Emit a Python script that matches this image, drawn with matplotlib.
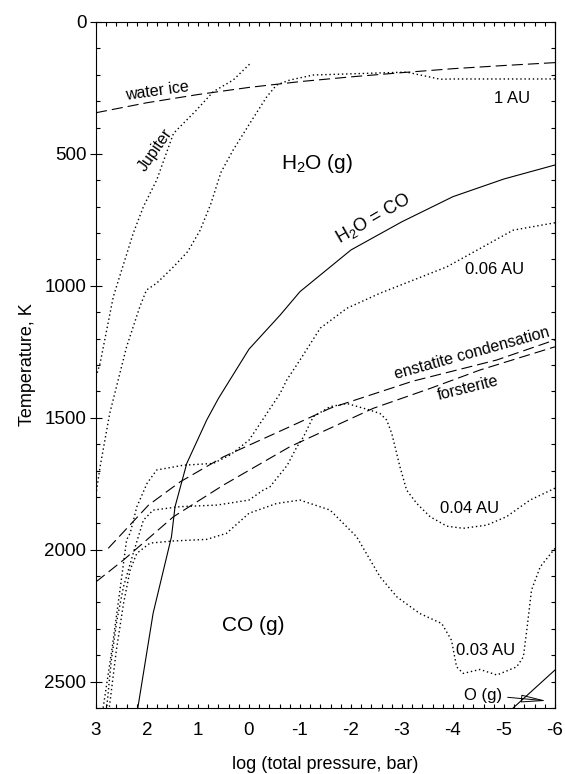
import matplotlib.pyplot as plt
from matplotlib.ticker import MultipleLocator

plt.rcParams['font.family'] = ['Liberation Sans', 'DejaVu Sans']
plt.rcParams['mathtext.fontset'] = 'custom'
plt.rcParams['mathtext.rm'] = 'Liberation Sans'
plt.rcParams['mathtext.it'] = 'Liberation Sans:italic'
plt.rcParams['axes.unicode_minus'] = False

# boundaries: log10 P (bar) and T (K)
ice_logp = [3, 2, 1, 0, -1, -2, -3, -4, -5, -6]
ice_T = [344, 306, 275, 248, 226, 208, 192, 177, 165, 154]

h2o_co_logp = [2.18, 1.88, 1.52, 1.45, 1.22, 0.83, 0.6, 0.0, -0.61, -1.0, -2.0, -3.0, -4.0, -5.0, -6.0]
h2o_co_T = [2600, 2241, 1951, 1837, 1673, 1509, 1427, 1240, 1111, 1022, 864, 757, 662, 595, 542]

enst_logp = [2.76, 1.97, 1.35, 0.5, -0.8, -1.59, -3.2, -4.86, -6.0]
enst_T = [1995, 1831, 1743, 1648, 1534, 1464, 1362, 1281, 1205]

forst_logp = [3.0, 2.46, 1.48, 0.5, -0.8, -2.44, -3.55, -4.53, -6.0]
forst_T = [2122, 2039, 1875, 1755, 1610, 1464, 1389, 1319, 1231]

og_logp = [-5.18, -6.0]
og_T = [2600, 2456]

# nebular and planetary P-T profiles
jup_logp = [-0.01, 0.31, 0.70, 1.03, 1.48, 1.81, 2.07, 2.27, 2.66, 2.92, 3.0]
jup_T = [160, 220, 264, 334, 422, 599, 700, 801, 1041, 1294, 1345]

au1_logp = [-6.0, -4.0, -3.75, -3.09, -1.92, -1.26, -0.80, -0.54, -0.35, -0.02, 0.31,
            0.55, 0.75, 0.96, 1.2, 1.48, 1.81, 2.01, 2.14, 2.40, 2.73, 2.92, 3.0]
au1_T = [216, 216, 217, 190, 197, 201, 220, 239, 283, 383, 485,
         570, 690, 790, 870, 928, 990, 1016, 1079, 1231, 1483, 1686, 1790]

au006_logp = [-6.0, -5.18, -3.88, -2.57, -1.92, -1.4, -1.0, -0.74, -0.61, 0.0, 0.37,
              0.7, 1.29, 1.81, 2.0, 2.2, 2.33, 2.4, 2.53, 2.69, 2.86]
au006_T = [761, 789, 928, 1028, 1085, 1160, 1281, 1357, 1408, 1585, 1641,
           1673, 1680, 1698, 1749, 1838, 1937, 1963, 2153, 2381, 2600]

au004_logp = [-6.0, -5.51, -5.05, -4.66, -4.2, -3.88, -3.55, -3.29, -3.09, -2.96, -2.8,
              -2.7, -2.57, -2.37, -1.92, -1.59, -1.26, -1.07, -0.94, -0.75, -0.41, -0.28,
              0.0, 0.63, 1.35, 1.88, 2.07, 2.27, 2.46, 2.59, 2.70, 2.79]
au004_T = [1767, 1812, 1875, 1907, 1919, 1911, 1875, 1825, 1774, 1686, 1560,
           1509, 1484, 1471, 1446, 1458, 1496, 1572, 1610, 1680, 1762, 1774,
           1812, 1831, 1837, 1850, 1888, 2014, 2140, 2267, 2420, 2600]

au003_logp = [-6.0, -5.71, -5.54, -5.45, -5.38, -5.25, -4.86, -4.53, -4.2, -4.07, -3.97,
              -3.78, -3.35, -2.9, -2.57, -2.11, -1.59, -1.0, -0.54, 0.0, 0.44, 0.83,
              1.48, 1.94, 2.2, 2.33, 2.46, 2.6, 2.74]
au003_T = [1995, 2065, 2153, 2300, 2406, 2444, 2475, 2454, 2469, 2444, 2343,
           2280, 2242, 2179, 2103, 1951, 1850, 1812, 1825, 1862, 1938, 1961,
           1967, 1975, 2014, 2077, 2204, 2380, 2600]

fig = plt.figure(figsize=(5.65, 7.74), dpi=100)
ax = fig.add_axes([0.1699, 0.0853, 0.8124, 0.8863])

solid = dict(color='black', lw=0.8)
dashed = dict(color='black', lw=0.8, dashes=(10, 4.5))
dotted = dict(color='black', lw=1.0, dashes=(1, 2))

ax.plot(h2o_co_logp, h2o_co_T, **solid)
ax.plot(og_logp, og_T, **solid)
ax.plot(ice_logp, ice_T, **dashed)
ax.plot(enst_logp, enst_T, **dashed)
ax.plot(forst_logp, forst_T, **dashed)
for xs, ys in [(jup_logp, jup_T), (au1_logp, au1_T), (au006_logp, au006_T),
               (au004_logp, au004_T), (au003_logp, au003_T)]:
    ax.plot(xs, ys, **dotted)

ax.set_xlim(3, -6)
ax.set_ylim(2600, 0)

# labels on the curves
small = 11.5
mid = 12
ax.text(1.80, 262, 'water ice', fontsize=small, rotation=8, ha='center', va='center')
ax.text(1.84, 485, 'Jupiter', fontsize=small, rotation=55, ha='center', va='center')
ax.text(-5.15, 289, '1 AU', fontsize=mid, ha='center', va='center')
ax.text(-1.33, 535, 'H$_2$O (g)', fontsize=15, ha='center', va='center')
ax.text(-2.43, 743, 'H$_2$O = CO', fontsize=13, rotation=30, ha='center', va='center')
ax.text(-4.82, 940, '0.06 AU', fontsize=mid, ha='center', va='center')
ax.text(-4.37, 1256, 'enstatite condensation', fontsize=small, rotation=15.5,
        ha='center', va='center')
ax.text(-4.30, 1389, 'forsterite', fontsize=small, rotation=14, ha='center', va='center')
ax.text(-4.32, 1843, '0.04 AU', fontsize=mid, ha='center', va='center')
ax.text(-0.08, 2286, 'CO (g)', fontsize=15, ha='center', va='center')
ax.text(-4.63, 2381, '0.03 AU', fontsize=mid, ha='center', va='center')
ax.annotate('O (g)', xy=(-5.83, 2573), xytext=(-4.59, 2551), fontsize=mid,
            ha='center', va='center',
            arrowprops=dict(arrowstyle='-|>,head_length=1.3,head_width=0.2',
                            fc='none', ec='black', lw=0.7, shrinkA=2, shrinkB=0))

ax.set_xlabel('log (total pressure, bar)', fontsize=13, labelpad=12)
ax.set_ylabel('Temperature, K', fontsize=13, labelpad=6)

ax.xaxis.set_major_locator(MultipleLocator(1))
ax.xaxis.set_minor_locator(MultipleLocator(0.2))
ax.yaxis.set_major_locator(MultipleLocator(500))
ax.yaxis.set_minor_locator(MultipleLocator(100))
ax.tick_params(axis='x', which='both', direction='in', top=True, bottom=True,
               length=3, width=0.8, labelsize=13.5, pad=10)
ax.tick_params(axis='y', which='major', direction='inout', length=8, width=0.8,
               right=False, labelsize=13.5, pad=3)
ax.tick_params(axis='y', which='minor', direction='in', length=3, width=0.8, right=False)

right = ax.secondary_yaxis('right')
right.yaxis.set_major_locator(MultipleLocator(500))
right.yaxis.set_minor_locator(MultipleLocator(100))
right.tick_params(which='both', direction='in', length=3, width=0.8, labelright=False)

for s in ax.spines.values():
    s.set_linewidth(0.8)

fig.savefig('out.png', dpi=100)
